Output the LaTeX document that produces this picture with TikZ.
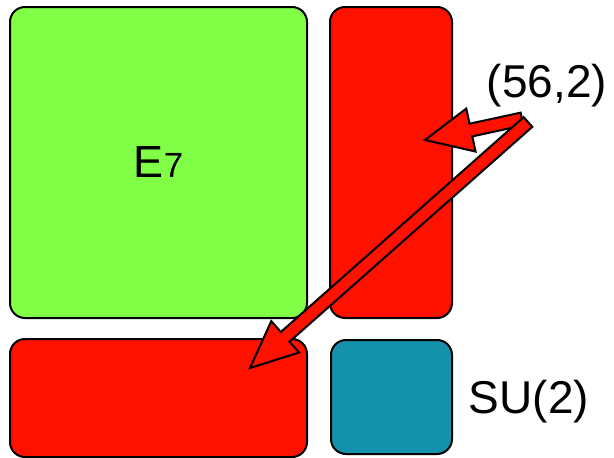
\documentclass[tikz,border=0pt]{standalone}
\usepackage{fontspec}
\setmainfont{Liberation Sans}
\usetikzlibrary{calc}
\definecolor{grn}{RGB}{128,255,70}
\definecolor{rd}{RGB}{255,17,0}
\definecolor{teal}{RGB}{20,146,172}
\tikzset{
	box/.style={draw=black, line width=2pt, rounded corners=15pt, inner sep=0pt},
	bigarrow/.style={draw=black, fill=rd, line width=2pt, line join=miter}
}
\begin{document}
\begin{tikzpicture}[x=1pt, y=-1pt]
		\useasboundingbox (0,0) rectangle (614,458);
		% Bloques
			\node[box, fill=grn, minimum width=297pt, minimum height=311pt] (e7) at (158.5,162.5) {\fontsize{45}{54}\selectfont E\fontsize{35}{42}\selectfont 7};
			\node[box, fill=rd, minimum width=122pt, minimum height=311pt] (rv) at (391,162.5) {};
			\node[box, fill=rd, minimum width=297pt, minimum height=118pt] (rh) at (158.5,398) {};
			\node[box, fill=teal, minimum width=121pt, minimum height=114pt] (su) at (391.5,397) {};
		% Etiquetas
			\node (rep) at (547,86) {\fontsize{46}{55}\selectfont (56,2)};
			\node (sulab) at (529,402) {\fontsize{46}{55}\selectfont SU(2)};
		% Flechas
			% Corta
				\coordinate (t1) at (522,119);
				\coordinate (p1) at (425,140);
				\coordinate (h1) at ($(p1)!47pt!(t1)$);
				\filldraw[bigarrow] ($(t1)!6.5pt!90:(p1)$) -- ($(h1)!6.5pt!90:(p1)$) -- ($(h1)!22pt!90:(p1)$)
					-- (p1) -- ($(h1)!22pt!-90:(p1)$) -- ($(h1)!6.5pt!-90:(p1)$) -- ($(t1)!6.5pt!-90:(p1)$) -- cycle;
			% Larga
				\coordinate (t2) at (528,122);
				\coordinate (p2) at (250,368);
				\coordinate (h2) at ($(p2)!47pt!(t2)$);
				\filldraw[bigarrow] ($(t2)!6.5pt!90:(p2)$) -- ($(h2)!6.5pt!90:(p2)$) -- ($(h2)!21pt!90:(p2)$)
					-- (p2) -- ($(h2)!21pt!-90:(p2)$) -- ($(h2)!6.5pt!-90:(p2)$) -- ($(t2)!6.5pt!-90:(p2)$) -- cycle;
	\end{tikzpicture}
\end{document}
